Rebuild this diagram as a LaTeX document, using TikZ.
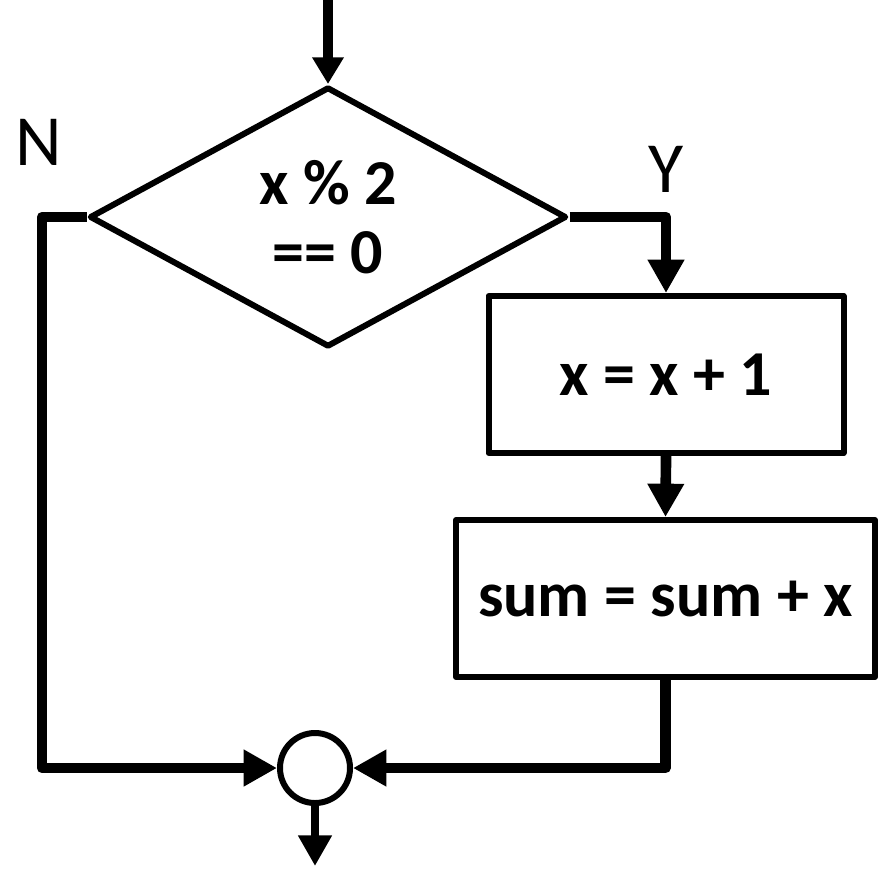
\documentclass[tikz,border=0pt]{standalone}
\usepackage{fontspec}
\setmainfont{Carlito}
\usetikzlibrary{shapes.geometric,arrows.meta}
\begin{document}
\begin{tikzpicture}[x=0.75pt,y=-0.75pt,
  shapeline/.style={draw=black,line width=4.5pt,line join=round},
  boxnode/.style={shapeline,rectangle,inner sep=0pt,minimum height=117.75pt,font=\fontsize{48}{55}\selectfont\bfseries},
  decision/.style={shapeline,diamond,inner sep=0pt,shape aspect=1.83,minimum width=357.75pt,minimum height=195pt,align=center,font=\fontsize{48}{55}\selectfont\bfseries},
  joinnode/.style={shapeline,circle,inner sep=0pt,minimum size=52.5pt},
  conn/.style={line width=8pt,line join=round,draw=black},
  tipA/.style={-{Triangle[length=20pt,width=22.5pt]}},
  tipB/.style={-{Triangle[length=25pt,width=26pt]}},
  tipC/.style={-{Triangle[length=23pt,width=24pt]}},
  lbl/.style={font=\fontsize{54}{60}\selectfont}]
\useasboundingbox (0,0) rectangle (884,869);
\coordinate (start) at (328,0);
\node[decision] (dec) at (328,217) {x \% 2\\[-3pt]== 0};
\node[boxnode,minimum width=266.25pt] (b1) at (666,374.5) {x = x + 1};
\node[boxnode,minimum width=314.25pt] (b2) at (665.5,598.5) {sum = sum + x};
\node[joinnode] (j) at (315,768) {};
\coordinate (end) at (315,866);
\node[lbl] (nl) at (39,142) {N};
\node[lbl] (yl) at (666,169) {Y};
\draw[conn,tipA] (start) -- (dec.north);
\draw[conn,tipB] (dec.east) -| (b1.north);
\draw[conn,tipB] (b1.south) -- (b2.north);
\draw[conn,tipB] (dec.west) -| (42,768) -- (j.west);
\draw[conn,tipB] (b2.south) |- (j.east);
\draw[line width=6pt,draw=black,tipC] (j.south) -- (end);
\end{tikzpicture}
\end{document}
